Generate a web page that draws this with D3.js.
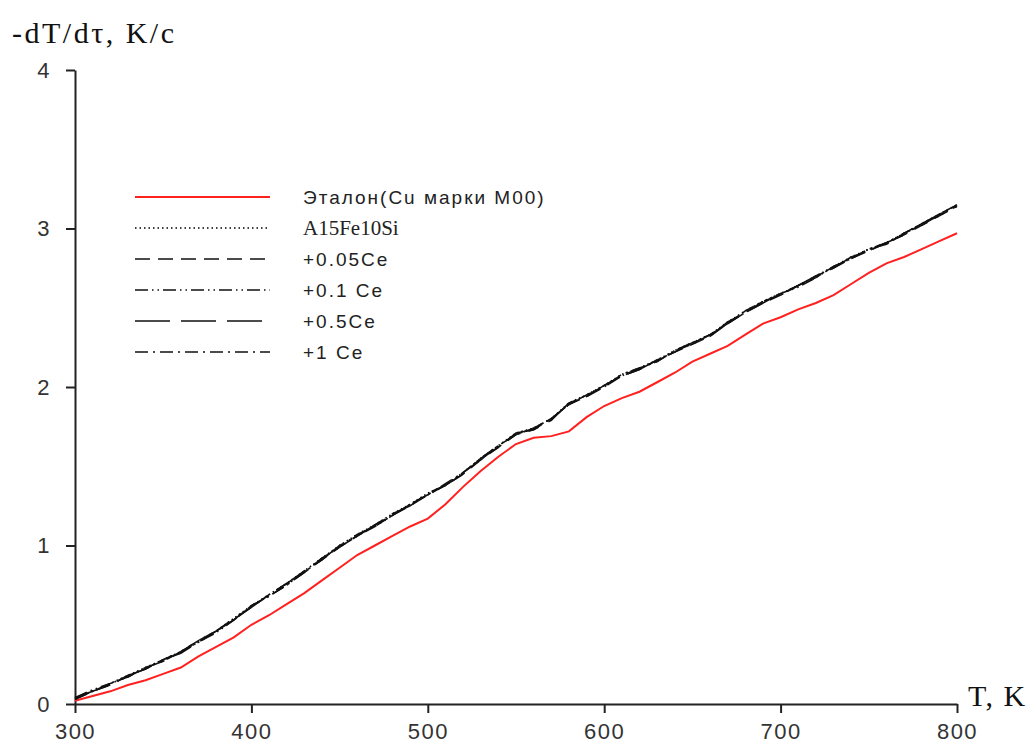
<!DOCTYPE html>
<html>
<head>
<meta charset="utf-8">
<script src="https://cdn.jsdelivr.net/npm/d3@7"></script>
<style>
  body { margin: 0; background: #fff; }
  svg { display: block; }
</style>
</head>
<body>
<svg id="chart"></svg>
<script>
// temperature, K
const temps = d3.range(300, 801, 10)

// cooling rate -dT/dtau, K/c
const etalon = [0.02,0.05,0.08,0.12,0.15,0.19,0.23,0.30,0.36,0.42,
                0.50,0.56,0.63,0.70,0.78,0.86,0.94,1.00,1.06,1.12,
                1.17,1.26,1.37,1.47,1.56,1.64,1.68,1.69,1.72,1.81,
                1.88,1.93,1.97,2.03,2.09,2.16,2.21,2.26,2.33,2.40,
                2.44,2.49,2.53,2.58,2.65,2.72,2.78,2.82,2.87,2.92,2.97]
const al15fe10si = [0.04,0.08,0.13,0.18,0.23,0.28,0.33,0.39,0.46,0.54,
                    0.62,0.69,0.76,0.84,0.92,1.00,1.07,1.13,1.20,1.26,
                    1.33,1.38,1.46,1.55,1.63,1.71,1.74,1.80,1.90,1.95,
                    2.01,2.08,2.12,2.17,2.23,2.28,2.33,2.41,2.48,2.54,
                    2.59,2.64,2.70,2.76,2.82,2.87,2.91,2.97,3.03,3.09,3.15]
const ce005 = [0.03,0.08,0.12,0.18,0.22,0.28,0.33,0.40,0.46,0.53,
               0.61,0.69,0.76,0.83,0.91,0.99,1.06,1.13,1.19,1.25,
               1.32,1.38,1.45,1.54,1.62,1.70,1.73,1.80,1.89,1.94,
               2.00,2.07,2.11,2.17,2.22,2.27,2.32,2.40,2.47,2.53,
               2.58,2.64,2.70,2.75,2.81,2.86,2.91,2.96,3.02,3.08,3.14]
const ce01 = [0.04,0.09,0.13,0.17,0.23,0.27,0.33,0.39,0.45,0.53,
              0.62,0.68,0.75,0.83,0.92,0.99,1.06,1.12,1.19,1.26,
              1.32,1.38,1.46,1.55,1.63,1.70,1.74,1.80,1.89,1.95,
              2.01,2.07,2.12,2.16,2.23,2.28,2.33,2.40,2.47,2.54,
              2.59,2.63,2.69,2.76,2.81,2.87,2.91,2.97,3.03,3.08,3.15]
const ce05 = [0.04,0.08,0.12,0.18,0.22,0.28,0.32,0.39,0.46,0.54,
              0.61,0.69,0.76,0.84,0.91,1.00,1.06,1.13,1.20,1.25,
              1.33,1.38,1.45,1.55,1.62,1.71,1.73,1.79,1.90,1.94,
              2.01,2.07,2.11,2.17,2.22,2.28,2.32,2.41,2.47,2.53,
              2.59,2.64,2.70,2.75,2.82,2.86,2.91,2.96,3.03,3.09,3.14]
const ce1 = [0.03,0.08,0.13,0.17,0.23,0.27,0.33,0.40,0.46,0.53,
             0.62,0.68,0.75,0.83,0.92,0.99,1.07,1.12,1.19,1.26,
             1.32,1.39,1.46,1.54,1.63,1.70,1.74,1.80,1.89,1.95,
             2.00,2.08,2.12,2.16,2.23,2.27,2.33,2.40,2.48,2.54,
             2.58,2.64,2.69,2.76,2.81,2.87,2.90,2.97,3.02,3.09,3.15]

const xTicks = [300, 400, 500, 600, 700, 800]
const yTicks = [0, 1, 2, 3, 4]

const series = [
  {name: "Эталон(Cu марки M00)", values: etalon, color: "#ff2020", width: 2, dash: null, font: "sans"},
  {name: "A15Fe10Si", values: al15fe10si, color: "#000", width: 1.6, dash: "1.5,3", font: "serif"},
  {name: "+0.05Ce", values: ce005, color: "#111", width: 1.6, dash: "15,8", font: "sans"},
  {name: "+0.1 Ce", values: ce01, color: "#111", width: 1.6, dash: "13,4,1.5,4,1.5,4", font: "sans"},
  {name: "+0.5Ce", values: ce05, color: "#111", width: 1.6, dash: "35,11", font: "sans"},
  {name: "+1 Ce", values: ce1, color: "#111", width: 1.6, dash: "13,5,2,5", font: "sans"}
]

const width = 1031, height = 749

const svg = d3.select("#chart")
              .attr("width", width)
              .attr("height", height)

const x = d3.scaleLinear().domain([300, 800]).range([75, 957])
const y = d3.scaleLinear().domain([0, 4]).range([704, 70])

const sansFont = "'Liberation Sans', Arial, sans-serif",
      serifFont = "'Liberation Serif', 'Times New Roman', serif"

// axes
const xAxis = svg.append("g")
                 .attr("transform", `translate(0,${y(0)})`)
                 .call(d3.axisBottom(x).tickValues(xTicks).tickFormat(d3.format("d")).tickSize(9).tickSizeOuter(0))
const yAxis = svg.append("g")
                 .attr("transform", `translate(${x(300)},0)`)
                 .call(d3.axisLeft(y).tickValues(yTicks).tickFormat(d3.format("d")).tickSize(9).tickSizeOuter(0).tickPadding(15))

;[xAxis, yAxis].forEach(a => {
  a.select(".domain").attr("stroke", "#222").attr("stroke-width", 2)
  a.selectAll(".tick line").attr("stroke", "#222").attr("stroke-width", 2)
  a.selectAll(".tick text")
   .attr("fill", "#333")
   .style("font-family", sansFont)
   .style("font-size", "22px")
   .style("letter-spacing", "1.5px")
})
// labels sit at the very bottom edge, as in the source picture
xAxis.selectAll(".tick text").attr("y", 35).attr("dy", 0)

// axis titles
svg.append("text")
   .attr("x", 12)
   .attr("y", 43)
   .style("font-family", serifFont)
   .style("font-size", "30px")
   .style("letter-spacing", "2.5px")
   .attr("fill", "#111")
   .text("-dT/dτ, K/c")

svg.append("text")
   .attr("x", 968)
   .attr("y", 706)
   .style("font-family", serifFont)
   .style("font-size", "30px")
   .style("letter-spacing", "1.5px")
   .attr("fill", "#111")
   .text("T, K")

// curves
const line = d3.line()
               .x((d, i) => x(temps[i]))
               .y(d => y(d))

svg.append("g")
   .selectAll("path")
   .data(series)
   .join("path")
   .attr("d", d => line(d.values))
   .attr("fill", "none")
   .attr("stroke", d => d.color)
   .attr("stroke-width", d => d.width)
   .attr("stroke-dasharray", d => d.dash)

// legend
const legend = svg.append("g")
                  .selectAll("g")
                  .data(series)
                  .join("g")
                  .attr("transform", (d, i) => `translate(135,${197 + i * 31})`)

legend.append("line")
      .attr("x1", 0)
      .attr("x2", 135)
      .attr("stroke", d => d.color)
      .attr("stroke-width", d => d.width)
      .attr("stroke-dasharray", d => d.dash)

legend.append("text")
      .attr("x", 168)
      .attr("dy", "0.35em")
      .style("font-family", d => d.font === "serif" ? serifFont : sansFont)
      .style("font-size", d => d.font === "serif" ? "21px" : "19px")
      .style("letter-spacing", d => d.font === "serif" ? "0px" : "2px")
      .attr("fill", "#222")
      .text(d => d.name)
</script>
</body>
</html>
